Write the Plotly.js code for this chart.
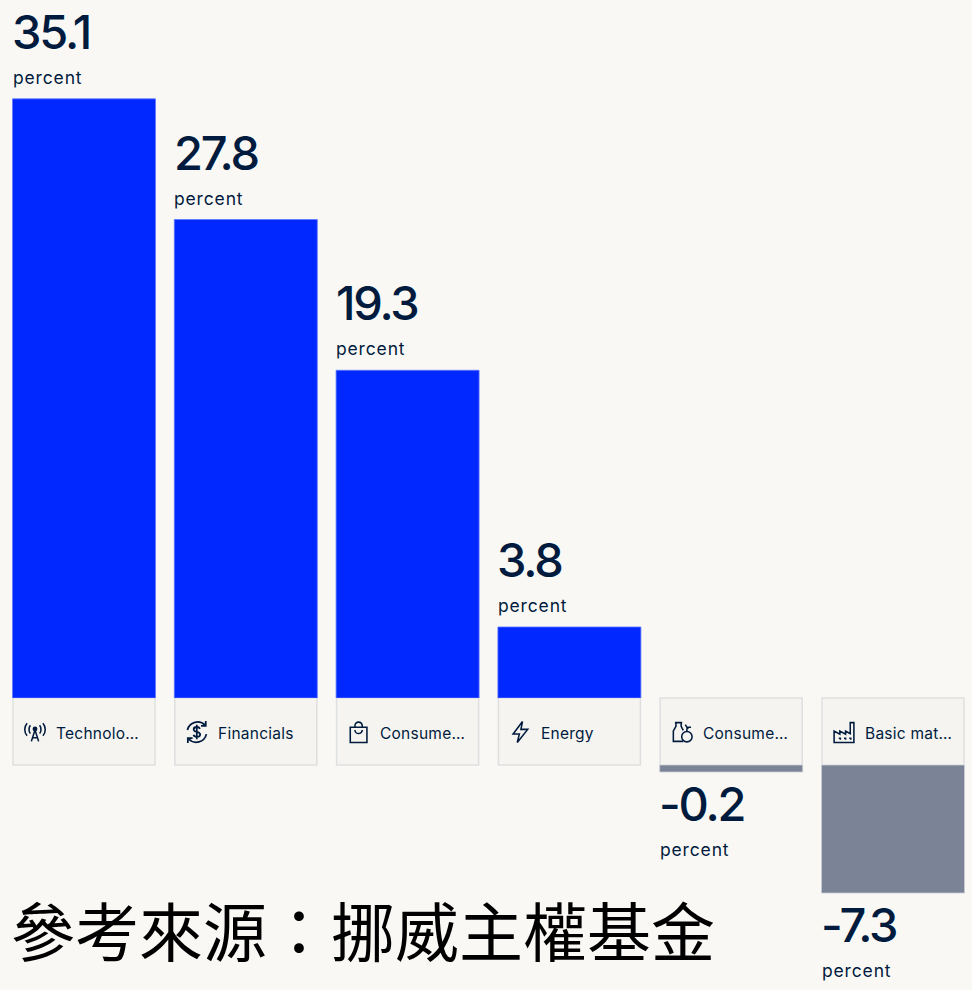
<!DOCTYPE html>
<html>
<head>
<meta charset="utf-8">
<script src="https://cdn.plot.ly/plotly-3.0.1.min.js"></script>
<style>
html,body{margin:0;padding:0;background:#FAF8F5;overflow:hidden}
#chart{width:972px;height:990px}
text.annotation-text[style*="font-size: 47px"]{letter-spacing:-2.2px}
text.annotation-text[style*="font-size: 17.5px"]{letter-spacing:.85px}
text.annotation-text[style*="font-size: 15.5px"]{letter-spacing:.25px}
</style>
</head>
<body>
<div id="chart"></div>
<script>
// Sector names and the figures printed above/below each bar
const categories = ["Technology", "Financials", "Consumer discretionary", "Energy", "Consumer staples", "Basic materials"];
const tileLabels = ["Technolo…", "Financials", "Consume…", "Energy", "Consume…", "Basic mat…"];
const printedValues = ["35.1", "27.8", "19.3", "3.8", "-0.2", "-7.3"];
// Bar lengths as drawn in the reference, read off on the scale of the tallest bar
// (the reference's bars are not exactly proportional to their printed figures)
const drawnLengths = [35.1, 28.03, 19.2, 4.16, -0.41, -7.5];
const unitLabel = "percent";
const sourceNote = "參考來源：挪威主權基金";

const INK = "#001B3D", BLUE = "#0028FF", GREY = "#7A8496";
const W = 972, H = 990, PITCH = 161.8, ZERO_POS = 698, ZERO_NEG = 765, PX_PER_UNIT = 17.07;

const stroke = (body) => "data:image/svg+xml," + encodeURIComponent(
  `<svg xmlns="http://www.w3.org/2000/svg" viewBox="0 0 24 24" width="96" height="96" fill="none" stroke="${INK}" stroke-width="1.5">${body}</svg>`);
const icons = [
  stroke('<circle cx="12" cy="9" r="1.6" fill="#001B3D"/><path d="M12 10 8.5 21M12 10 15.5 21M9.6 17.5h4.8"/><path d="M7.6 5.5c-1.8 2.2-1.8 5.8 0 8M16.4 5.5c1.8 2.2 1.8 5.8 0 8M4.4 3.5c-3 3.5-3 8.5 0 12M19.6 3.5c3 3.5 3 8.5 0 12"/>'),
  stroke('<path stroke-width="1.7" d="M20 5.5A10 10 0 0 0 3 10M4 18.5A10 10 0 0 0 21.2 14"/><path stroke-width="1.7" d="M20.6 1.5v4.6h-4.6M3.4 22.5v-4.6h4.6"/><path stroke-width="1.7" d="M15 9c-.4-1.2-1.6-1.8-3-1.8-1.7 0-3 .9-3 2.3 0 3.2 6.2 1.6 6.2 4.9 0 1.4-1.4 2.3-3.2 2.3-1.5 0-2.8-.7-3.2-2M12 5v14"/>'),
  stroke('<path d="M4 7.5h16V22H4zM8.5 7.5V6a3.5 3.5 0 0 1 7 0v1.5M8.5 10a3.5 3.5 0 0 0 7 0"/>'),
  stroke('<path d="M14 2 5 14h6l-2 8 10-12.5h-6.5z"/>'),
  stroke('<path d="M5 3h7M6 3v3.5L3.5 11v10H13M11 3v3.5l2 4"/><circle cx="16.5" cy="16.5" r="5"/><path d="M16.5 11.5V9.5c0-1 .8-1.6 2-1.6M15 5l1.5 2.5h4"/>'),
  stroke('<path d="M2.5 22V11l5.5 3v-3l5.5 3V11l4.5 2.5V3h3.5v19zM7 18h1.5v1.5M12 18h1.5v1.5M17 18h1.5v1.5"/>')
];

// Positive bars hang on the upper axis, negative bars on the lower one; tiles sit between them
const isPos = drawnLengths.map(v => v >= 0);
const pick = (flag) => ({
  x: categories.filter((_, i) => isPos[i] === flag),
  y: drawnLengths.filter((_, i) => isPos[i] === flag)
});
const barStyle = (col) => ({color: col, line: {color: col === BLUE ? "#5F78FF" : "#C9CED6", width: 0.8}});
const traces = [
  Object.assign({type: "bar", xaxis: "x", yaxis: "y", width: 143 / PITCH, marker: barStyle(BLUE), hoverinfo: "skip"}, pick(true)),
  Object.assign({type: "bar", xaxis: "x", yaxis: "y2", width: 143 / PITCH, marker: barStyle(GREY), hoverinfo: "skip"}, pick(false))
];

const annotations = [], shapes = [], images = [];
const py = (px) => 1 - px / H;
categories.forEach((c, i) => {
  const pos = isPos[i], yref = pos ? "y" : "y2", v = drawnLengths[i];
  const txt = (text, size, weight, xshift, shift) => annotations.push({
    xref: "x", yref: yref, x: i, y: v, xanchor: "left", yanchor: "middle",
    xshift: xshift, yshift: shift, showarrow: false, text: text, borderpad: 0, borderwidth: 0,
    font: {family: "Inter, sans-serif", size: size, weight: weight, color: INK}
  });
  txt(printedValues[i], 47, 500, -72, pos ? 67.5 : -31.5);
  txt(unitLabel, 17.5, 400, -71.5, pos ? 21.5 : -77.5);
  annotations.push({
    xref: "x", yref: "paper", x: i, y: py(733), xanchor: "left", yanchor: "middle",
    xshift: -29, showarrow: false, text: tileLabels[i], borderpad: 0,
    font: {family: "Inter, sans-serif", size: 15.5, color: INK}
  });
  shapes.push({
    type: "rect", layer: "below", xref: "x", yref: "paper",
    x0: i - 71 / PITCH, x1: i + 71 / PITCH, y0: py(ZERO_NEG), y1: py(ZERO_POS),
    fillcolor: "#F5F4F1", line: {color: "#DEDFE0", width: 1.5}
  });
  images.push({
    source: icons[i], xref: "x", yref: "paper", x: i - 49 / PITCH, y: py(732),
    sizex: 25 / PITCH, sizey: 25 / H, xanchor: "center", yanchor: "middle", layer: "above"
  });
});
annotations.push({
  xref: "paper", yref: "paper", x: 10 / W, y: py(928), xanchor: "left", yanchor: "middle",
  showarrow: false, text: sourceNote, borderpad: 0,
  font: {family: "'Noto Sans CJK TC', sans-serif", size: 64, color: "#000000"}
});

const layout = {
  width: W, height: H, margin: {l: 0, r: 0, t: 0, b: 0},
  paper_bgcolor: "#FAF8F5", plot_bgcolor: "rgba(0,0,0,0)", showlegend: false, barmode: "overlay",
  xaxis: {type: "category", categoryorder: "array", categoryarray: categories,
          range: [-84 / PITCH, (W - 84) / PITCH], visible: false, fixedrange: true},
  yaxis: {domain: [1 - ZERO_POS / H, 1], range: [0, ZERO_POS / PX_PER_UNIT], visible: false, fixedrange: true},
  yaxis2: {domain: [0, 1 - ZERO_NEG / H], range: [-(H - ZERO_NEG) / PX_PER_UNIT, 0], visible: false, fixedrange: true},
  annotations, shapes, images
};
Plotly.newPlot("chart", traces, layout, {staticPlot: true, displayModeBar: false});
</script>
</body>
</html>
